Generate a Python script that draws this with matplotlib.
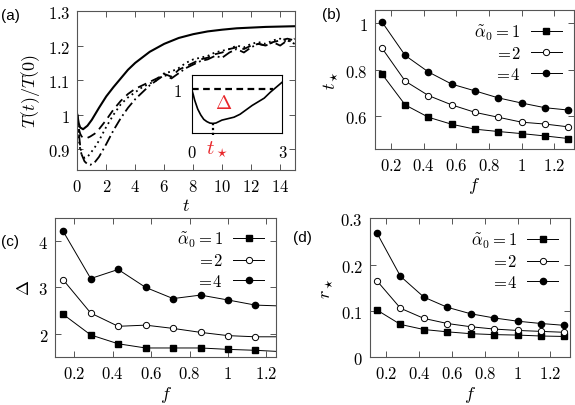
import numpy as np
import matplotlib
matplotlib.use("Agg")
import matplotlib.pyplot as plt
from matplotlib.ticker import FuncFormatter, MultipleLocator

# -----------------------------
# DATA
# -----------------------------
# panel (a): temperature curves
t_smooth = [0, 0.1, 0.2, 0.4, 0.7, 1, 1.5, 2, 2.5, 3, 3.5, 4, 5, 6, 7, 8, 9,
            10, 11, 12, 13, 14, 15]
T_smooth = [1.0, 0.975, 0.963, 0.958, 0.968, 0.985, 1.02, 1.053, 1.08, 1.105,
            1.13, 1.15, 1.182, 1.205, 1.222, 1.233, 1.241, 1.246, 1.25, 1.252,
            1.254, 1.255, 1.256]

t_noisy = [0, 0.1, 0.2, 0.3, 0.5, 0.7, 0.9, 1.2, 1.5, 2.0, 2.5, 3.0, 3.5, 4.0,
           4.5, 5.0, 5.5, 6.0, 6.5, 7.0, 7.5, 8.0, 8.5, 9.0, 9.5, 10.0, 10.5,
           11.0, 11.5, 12.0, 12.5, 13.0, 13.5, 14.0, 14.5, 15.0]
T_dashed = [1.0, 0.96, 0.945, 0.937, 0.932, 0.933, 0.937, 0.945, 0.958, 0.985,
            1.015, 1.04, 1.06, 1.075, 1.085, 1.095, 1.105, 1.118, 1.11, 1.13,
            1.14, 1.15, 1.16, 1.165, 1.175, 1.18, 1.19, 1.195, 1.19, 1.2,
            1.205, 1.2, 1.21, 1.215, 1.22, 1.215]
T_dotted = [1.0, 0.93, 0.9, 0.885, 0.875, 0.878, 0.888, 0.905, 0.925, 0.965,
            1.0, 1.03, 1.05, 1.065, 1.08, 1.09, 1.1, 1.12, 1.125, 1.135, 1.15,
            1.16, 1.165, 1.17, 1.18, 1.185, 1.19, 1.2, 1.195, 1.205, 1.21,
            1.205, 1.215, 1.22, 1.21, 1.22]
T_dashdot = [1.0, 0.95, 0.91, 0.885, 0.865, 0.857, 0.855, 0.862, 0.878, 0.915,
             0.955, 0.99, 1.02, 1.045, 1.065, 1.085, 1.1, 1.115, 1.105, 1.12,
             1.135, 1.145, 1.155, 1.16, 1.17, 1.165, 1.18, 1.19, 1.18, 1.195,
             1.205, 1.2, 1.21, 1.2, 1.215, 1.205]

# inset of (a)
t_inset = [0, 0.05, 0.1, 0.2, 0.3, 0.4, 0.5, 0.6, 0.7, 0.8, 0.9, 1.0, 1.2, 1.4,
           1.6, 1.8, 2.0, 2.2, 2.4, 2.6, 2.8, 3.0]
T_inset = [1.0, 0.993, 0.985, 0.973, 0.965, 0.959, 0.956, 0.954, 0.9535, 0.954,
           0.956, 0.958, 0.960, 0.962, 0.966, 0.972, 0.978, 0.983, 0.988,
           0.996, 1.003, 1.01]
T_ref = 1.0
t_ref_end = 2.7

# panels (b)-(d): values vs f
f_vals = [1/7, 2/7, 3/7, 4/7, 5/7, 6/7, 1.0, 8/7, 9/7]
alpha_labels = [r'$\tilde{\alpha}_0=1$', r'$=\!2$', r'$=\!4$']

tstar_a1 = [0.782, 0.649, 0.596, 0.566, 0.545, 0.535, 0.526, 0.516, 0.505]
tstar_a2 = [0.893, 0.751, 0.689, 0.649, 0.617, 0.596, 0.575, 0.567, 0.555]
tstar_a4 = [1.005, 0.861, 0.79, 0.738, 0.709, 0.679, 0.657, 0.637, 0.627]

delta_a1 = [2.42, 1.98, 1.79, 1.70, 1.70, 1.70, 1.67, 1.65, 1.62]
delta_a2 = [3.16, 2.45, 2.165, 2.19, 2.12, 2.035, 1.965, 1.94, 1.94]
delta_a4 = [4.20, 3.19, 3.385, 3.0, 2.76, 2.835, 2.73, 2.62, 2.60]

rstar_a1 = [0.102, 0.071, 0.060, 0.055, 0.051, 0.049, 0.048, 0.046, 0.045]
rstar_a2 = [0.165, 0.106, 0.084, 0.073, 0.066, 0.061, 0.058, 0.056, 0.054]
rstar_a4 = [0.268, 0.175, 0.13, 0.108, 0.094, 0.085, 0.078, 0.073, 0.069]

# -----------------------------
# STYLE
# -----------------------------
plt.rcParams['mathtext.fontset'] = 'cm'
plt.rcParams['font.family'] = ['DejaVu Sans']
FS = 12
FRAME = '#555555'
math_fmt = FuncFormatter(lambda v, p: f'${v:g}$')


def style_axes(ax):
    for s in ax.spines.values():
        s.set_color(FRAME)
        s.set_linewidth(0.8)
    ax.tick_params(direction='in', top=True, right=True, length=4,
                   width=0.7, color=FRAME, labelsize=FS, pad=5)
    ax.xaxis.set_major_formatter(math_fmt)
    ax.yaxis.set_major_formatter(math_fmt)


def series_panel(ax, a1, a2, a4, ylab):
    ax.plot(f_vals, a1, '-', color='black', lw=0.7, marker='s', ms=4.5,
            mfc='black', label=alpha_labels[0])
    ax.plot(f_vals, a2, '-', color='black', lw=0.7, marker='o', ms=4.5,
            mfc='white', mew=0.7, label=alpha_labels[1])
    ax.plot(f_vals, a4, '-', color='black', lw=0.7, marker='o', ms=4.5,
            mfc='black', label=alpha_labels[2])
    ax.set_xlabel(r'$f$', fontsize=FS + 1, labelpad=1)
    ax.set_ylabel(ylab, fontsize=FS + 1, labelpad=4)
    ax.xaxis.set_major_locator(MultipleLocator(0.2))
    style_axes(ax)
    ax.legend(loc='upper right', frameon=False, markerfirst=False,
              numpoints=1, fontsize=FS, handlelength=1.9,
              handletextpad=0.6, labelspacing=0.15, borderaxespad=0.3)


fig = plt.figure(figsize=(5.75, 4.06), dpi=100)

# -----------------------------
# PANEL (a)
# -----------------------------
ax_a = fig.add_axes([0.1344, 0.5788, 0.378, 0.3916])
ax_a.plot(t_smooth, T_smooth, '-', color='black', lw=1.5)
ax_a.plot(t_noisy, T_dashed, color='black', lw=1.3, dashes=(5, 3))
ax_a.plot(t_noisy, T_dotted, color='black', lw=1.3, dashes=(1, 2))
ax_a.plot(t_noisy, T_dashdot, color='black', lw=1.3, dashes=(6, 2, 1, 2))
ax_a.set_xlim(0, 15)
ax_a.set_ylim(0.84, 1.3)
ax_a.xaxis.set_major_locator(MultipleLocator(2))
ax_a.yaxis.set_major_locator(MultipleLocator(0.1))
ax_a.set_xlabel(r'$t$', fontsize=FS + 1, labelpad=1)
ax_a.set_ylabel(r'$T(t)/T(0)$', fontsize=FS + 1, labelpad=4)
style_axes(ax_a)

# inset
ax_in = fig.add_axes([0.3334, 0.6692, 0.1576, 0.1443])
ax_in.plot(t_inset, T_inset, '-', color='black', lw=1.2)
ax_in.plot([0, t_ref_end], [T_ref, T_ref], color='black', lw=1.6,
           dashes=(3, 2))
i_min = int(np.argmin(T_inset))
ax_in.plot([t_inset[i_min], t_inset[i_min]], [T_inset[i_min], 0.935],
           color='black', lw=1.6, dashes=(1, 1.2), clip_on=False)
ax_in.set_xlim(0, 3)
ax_in.set_ylim(0.94, 1.02)
ax_in.set_xticks([0, 3])
ax_in.set_yticks([1])
for s in ax_in.spines.values():
    s.set_color('black')
    s.set_linewidth(0.8)
ax_in.tick_params(length=0, labelsize=FS, pad=7)
ax_in.xaxis.set_major_formatter(math_fmt)
ax_in.yaxis.set_major_formatter(math_fmt)
ax_in.text(1.07, 0.982, r'$\Delta$', color='#e8262a', fontsize=FS + 2,
           ha='center', va='center')
ax_in.text(0.85, 0.919, r'$t_\star$', color='#e8262a', fontsize=FS + 3,
           ha='center', va='center', clip_on=False)

# -----------------------------
# PANELS (b), (c), (d)
# -----------------------------
ax_b = fig.add_axes([0.652, 0.6305, 0.346, 0.342])
series_panel(ax_b, tstar_a1, tstar_a2, tstar_a4, r'$t_\star$')
ax_b.set_xlim(0.1, 1.32)
ax_b.set_ylim(0.46, 1.055)
ax_b.yaxis.set_major_locator(MultipleLocator(0.2))

ax_c = fig.add_axes([0.0957, 0.1175, 0.3843, 0.3443])
series_panel(ax_c, delta_a1, delta_a2, delta_a4, r'$\Delta$')
ax_c.set_xlim(0.1, 1.25)
ax_c.set_ylim(1.5, 4.5)
ax_c.yaxis.set_major_locator(MultipleLocator(1))

ax_d = fig.add_axes([0.6435, 0.1175, 0.348, 0.342])
series_panel(ax_d, rstar_a1, rstar_a2, rstar_a4, r'$r_\star$')
ax_d.set_xlim(0.1, 1.32)
ax_d.set_ylim(0, 0.3)
ax_d.yaxis.set_major_locator(MultipleLocator(0.1))

# panel labels
for lab, x, y in [('(a)', 10.5, 16), ('(b)', 331, 15), ('(c)', 9.5, 242),
                  ('(d)', 302, 238)]:
    fig.text(x / 575, 1 - y / 406, lab, fontsize=11, ha='center',
             va='center', family=['Liberation Sans', 'DejaVu Sans'])

fig.savefig('out.png', dpi=100)
